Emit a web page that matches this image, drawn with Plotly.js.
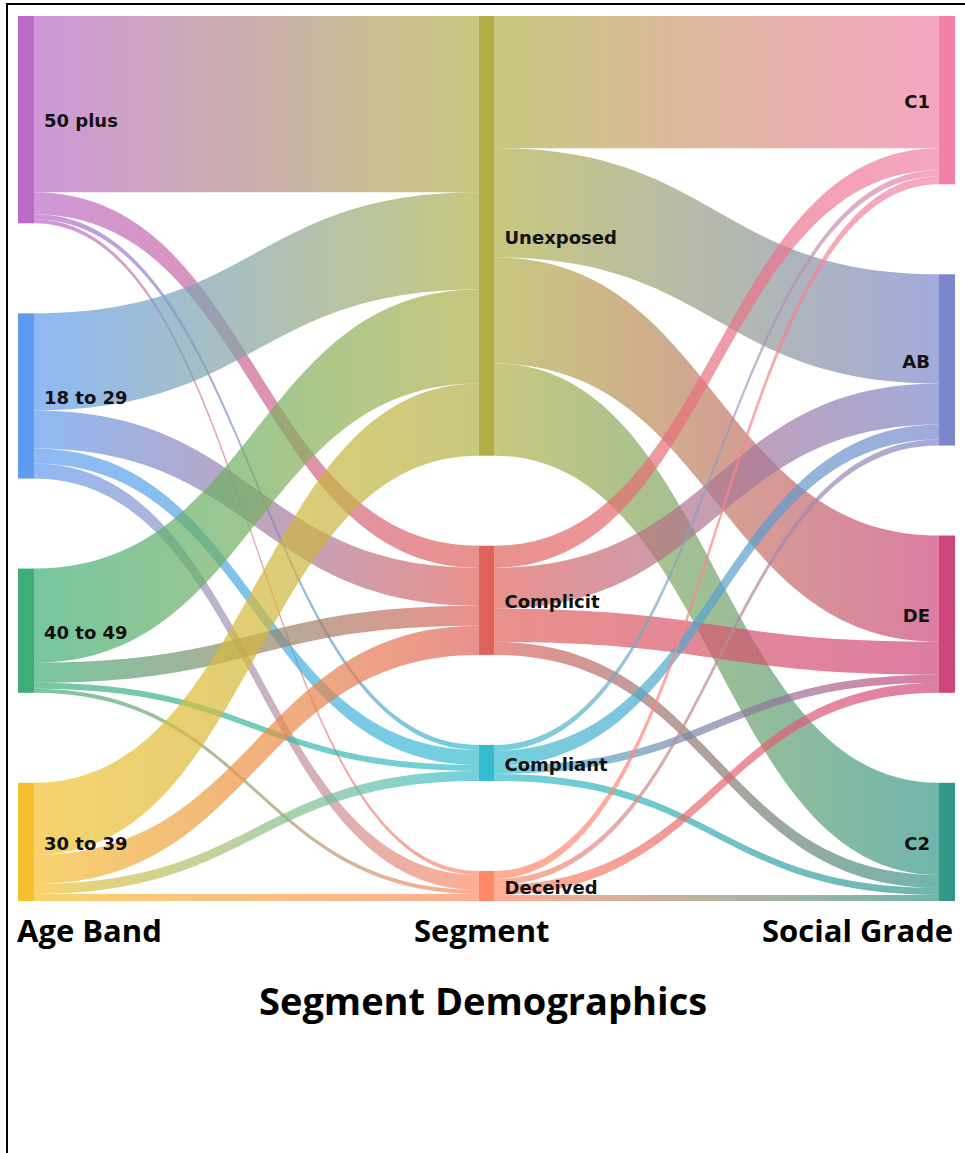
<!DOCTYPE html>
<html>
<head>
<meta charset="utf-8">
<script src="https://cdn.plot.ly/plotly-3.0.1.min.js"></script>
<style>
  html, body { margin: 0; padding: 0; background: #fff; }
  #wrap { position: relative; width: 965px; height: 1153px; overflow: hidden; }
  #chart { width: 965px; height: 1153px; }
  #frame { position: absolute; left: 6px; top: 3px; right: -10px; bottom: -10px;
           border-top: 2px solid #000; border-left: 2px solid #000; pointer-events: none; }
</style>
</head>
<body>
<div id="wrap"><div id="chart"></div><div id="frame"></div></div>
<script>
// ---- data ----
const ageBands = ['50 plus', '18 to 29', '40 to 49', '30 to 39'];
const segments = ['Unexposed', 'Complicit', 'Compliant', 'Deceived'];
const grades = ['C1', 'AB', 'DE', 'C2'];
// rows: age band, columns: segment
const ageToSegment = [
  [176, 22, 5, 4],
  [97, 38, 15, 15],
  [94, 20, 6, 4],
  [72, 29, 10, 7]
];
// rows: segment, columns: social grade
const segmentToGrade = [
  [132, 109, 106, 92],
  [22, 41, 33, 13],
  [6, 15, 8, 7],
  [8, 6, 10, 6]
];
const columnTitles = ['Age Band', 'Segment', 'Social Grade'];
const chartTitle = 'Segment Demographics';

// ---- styles ----
const ageColors = ['#BA6BC8', '#5F9BF0', '#3DAE77', '#F4C030'];
const segColors = ['#B1B048', '#E0625C', '#34BDD0', '#FF8A65'];
const gradeColors = ['#F280A8', '#7A87CC', '#CE457C', '#33968A'];

const W = 965, H = 1153;
const margin = { l: 18, r: 10, t: 16, b: 252 };
const domW = W - margin.l - margin.r;
const domH = H - margin.t - margin.b;
const pad = 90, thick = 16;

const labels = ageBands.concat(segments, grades);
const nodeColors = ageColors.concat(segColors, gradeColors);

const source = [], target = [], value = [];
ageToSegment.forEach((row, i) => row.forEach((v, j) => { source.push(i); target.push(4 + j); value.push(v); }));
segmentToGrade.forEach((row, i) => row.forEach((v, j) => { source.push(4 + i); target.push(8 + j); value.push(v); }));

// node totals per column
const ageTot = ageToSegment.map(r => r.reduce((a, b) => a + b, 0));
const segTot = segments.map((_, j) => ageToSegment.reduce((a, r) => a + r[j], 0));
const gradeTot = grades.map((_, j) => segmentToGrade.reduce((a, r) => a + r[j], 0));
const grand = ageTot.reduce((a, b) => a + b, 0);
const ky = (domH - 3 * pad) / grand;
function centers(tots) {
  let acc = 0; const out = [];
  tots.forEach((v, i) => { out.push((acc + v * ky / 2) / domH); acc += v * ky + pad; });
  return out;
}
const nodeY = centers(ageTot).concat(centers(segTot), centers(gradeTot));
const xL = (thick / 2) / domW, xM = 0.5, xR = 1 - (thick / 2) / domW;
const nodeX = labels.map((_, i) => i < 4 ? xL : (i < 8 ? xM : xR));

const trace = {
  type: 'sankey',
  arrangement: 'fixed',
  orientation: 'h',
  hoverinfo: 'none',
  domain: { x: [0, 1], y: [0, 1] },
  textfont: { family: 'DejaVu Sans, Arial, sans-serif', size: 18, color: '#111', weight: 'bold', shadow: 'none' },
  node: {
    label: labels,
    color: nodeColors,
    x: nodeX,
    y: nodeY,
    pad: pad,
    thickness: thick,
    line: { width: 0, color: 'rgba(0,0,0,0)' },
    hoverinfo: 'none'
  },
  link: {
    source: source,
    target: target,
    value: value,
    color: value.map(() => 'rgba(150,150,150,0.7)'),
    line: { width: 0 },
    hoverinfo: 'none'
  }
};

const titleFont = { family: 'Open Sans, Lato, sans-serif', size: 31, color: '#000', weight: 'bold' };
const yPix = py => (margin.t + domH - py) / domH;
const annotations = [
  { text: columnTitles[0], x: -3 / domW, xanchor: 'left', y: yPix(930), yanchor: 'middle' },
  { text: columnTitles[1], x: 0.5 - 5 / domW, xanchor: 'center', y: yPix(930), yanchor: 'middle' },
  { text: columnTitles[2], x: 1, xanchor: 'right', y: yPix(930), yanchor: 'middle' },
].map(a => Object.assign(a, { xref: 'paper', yref: 'paper', showarrow: false, font: titleFont }));
annotations.push({
  text: chartTitle, xref: 'paper', yref: 'paper', x: (483 - margin.l) / domW, xanchor: 'center',
  y: yPix(1000), yanchor: 'middle', showarrow: false,
  font: { family: 'Open Sans, Lato, sans-serif', size: 38, color: '#000', weight: 'bold' }
});

const layout = {
  width: W, height: H,
  margin: margin,
  paper_bgcolor: '#fff',
  plot_bgcolor: '#fff',
  showlegend: false,
  annotations: annotations
};

function applyGradients(gd) {
  const paths = gd.querySelectorAll('path.sankey-link');
  if (!paths.length) return;
  const svg = paths[0].ownerSVGElement;
  const NS = 'http://www.w3.org/2000/svg';
  let defs = svg.querySelector('defs#linkgrads');
  if (!defs) { defs = document.createElementNS(NS, 'defs'); defs.setAttribute('id', 'linkgrads'); svg.insertBefore(defs, svg.firstChild); }
  paths.forEach((p, i) => {
    const d = p.__data__ || {};
    let s, t;
    if (d.link && d.link.source && d.link.source.pointNumber !== undefined) {
      s = d.link.source.pointNumber; t = d.link.target.pointNumber;
    } else {
      const k = (d.link && d.link.pointNumber !== undefined) ? d.link.pointNumber : i;
      s = source[k]; t = target[k];
    }
    const id = 'lg' + i;
    let g = document.getElementById(id);
    if (!g) {
      g = document.createElementNS(NS, 'linearGradient');
      g.setAttribute('id', id);
      g.setAttribute('x1', '0'); g.setAttribute('y1', '0');
      g.setAttribute('x2', '1'); g.setAttribute('y2', '0');
      const s1 = document.createElementNS(NS, 'stop');
      s1.setAttribute('offset', '0'); s1.setAttribute('stop-color', nodeColors[s]);
      const s2 = document.createElementNS(NS, 'stop');
      s2.setAttribute('offset', '1'); s2.setAttribute('stop-color', nodeColors[t]);
      g.appendChild(s1); g.appendChild(s2);
      defs.appendChild(g);
    }
    p.style.fill = 'url(#' + id + ')';
    p.style.fillOpacity = '0.7';
  });
}

// nudge node labels a little further from their nodes
function nudgeLabels(gd) {
  gd.querySelectorAll('text.node-label').forEach(el => {
    const txt = el.textContent.trim();
    const dx = grades.indexOf(txt) >= 0 ? -6 : 7;
    const tr = el.getAttribute('transform') || '';
    el.setAttribute('transform', tr + ' translate(' + dx + ',1.5)');
  });
}

const gd = document.getElementById('chart');
Plotly.newPlot(gd, [trace], layout, { displayModeBar: false, staticPlot: true }).then(() => {
  applyGradients(gd);
  nudgeLabels(gd);
});
</script>
</body>
</html>
